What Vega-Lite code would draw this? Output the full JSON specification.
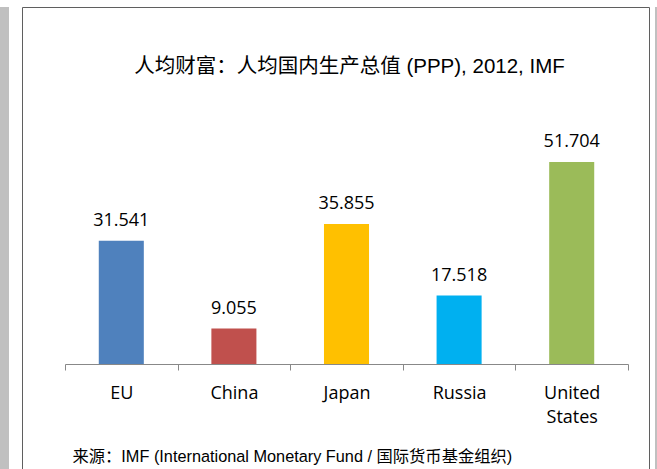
{
  "$schema": "https://vega.github.io/schema/vega-lite/v6.json",
  "background": "white",
  "padding": {"left": 0, "top": 6, "right": 0, "bottom": 0},
  "spacing": 12,
  "hconcat": [
    {
      "width": 9,
      "height": 470,
      "view": {"fill": "#c0c0c0", "stroke": null},
      "data": {"values": [{"a": 1}]},
      "mark": {"type": "point", "opacity": 0},
      "encoding": {}
    },
    {
      "spacing": 4,
      "hconcat": [
        {
          "width": 627,
          "height": 470,
          "view": {"stroke": "#5f5f5f", "strokeWidth": 1, "fill": "white"},
          "title": {
            "text": "人均财富：人均国内生产总值 (PPP), 2012, IMF",
            "font": "Liberation Sans, Noto Sans CJK SC",
            "fontSize": 20.5,
            "fontWeight": "normal",
            "color": "black",
            "anchor": "middle",
            "frame": "group",
            "baseline": "alphabetic",
            "offset": -86,
            "dx": 14
          },
          "data": {
            "values": [
              {"region": "EU", "value": 31.541},
              {"region": "China", "value": 9.055},
              {"region": "Japan", "value": 35.855},
              {"region": "Russia", "value": 17.518},
              {"region": "United States", "value": 51.704}
            ]
          },
          "encoding": {
            "x": {
              "field": "region",
              "type": "nominal",
              "sort": null,
              "scale": {"range": [43, 606], "paddingInner": 0, "paddingOuter": 0},
              "axis": {
                "title": "来源：IMF (International Monetary Fund / 国际货币基金组织)",
                "offset": -113,
                "labelAngle": 0,
                "labelFont": "Open Sans",
                "labelFontSize": 18,
                "labelColor": "black",
                "labelPadding": 14,
                "labelLineHeight": 24,
                "labelExpr": "datum.value == 'United States' ? ['United', 'States'] : datum.value",
                "tickBand": "extent",
                "tickSize": 6,
                "tickColor": "#888888",
                "domainColor": "#888888",
                "grid": false,
                "titleFont": "Liberation Sans, Noto Sans CJK SC",
                "titleFontSize": 16.3,
                "titleFontWeight": "normal",
                "titleColor": "black",
                "titleAnchor": "start",
                "titleAlign": "left",
                "titleBaseline": "alphabetic",
                "titleX": 50,
                "titleY": 97.5
              }
            },
            "y": {
              "field": "value",
              "type": "quantitative",
              "scale": {"domain": [-28.92, 91.37], "nice": false, "zero": false},
              "axis": null
            }
          },
          "layer": [
            {
              "mark": {"type": "bar", "width": {"band": 0.4}},
              "encoding": {
                "color": {
                  "field": "region",
                  "type": "nominal",
                  "scale": {
                    "domain": ["EU", "China", "Japan", "Russia", "United States"],
                    "range": ["#4f81bd", "#c0504d", "#ffc000", "#00b0f0", "#9bbb59"]
                  },
                  "legend": null
                }
              }
            },
            {
              "mark": {"type": "text", "dy": -15, "baseline": "alphabetic", "font": "Open Sans", "fontSize": 18, "color": "black"},
              "encoding": {"text": {"field": "value", "type": "quantitative", "format": ".3f"}}
            }
          ]
        },
        {
          "width": 5,
          "height": 470,
          "view": {"fill": "#c0c0c0", "stroke": null},
          "data": {"values": [{"a": 1}]},
          "mark": {"type": "point", "opacity": 0},
          "encoding": {}
        }
      ]
    }
  ]
}
